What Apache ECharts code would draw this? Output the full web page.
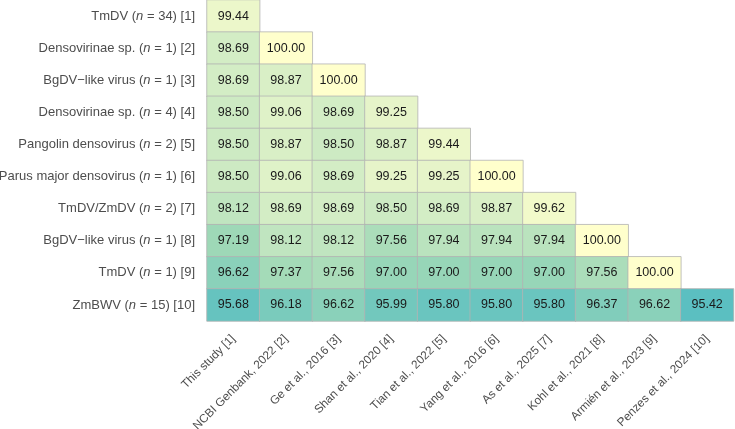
<!DOCTYPE html>
<html><head><meta charset="utf-8">
<script src="https://cdn.jsdelivr.net/npm/echarts@6/dist/echarts.min.js"></script>
<style>html,body{margin:0;padding:0;background:#fff}#c{width:735px;height:429px}</style>
</head><body><div id="c"></div>
<script>
const rowNames = ["TmDV", "Densovirinae sp.", "BgDV\u2212like virus", "Densovirinae sp.", "Pangolin densovirus", "Parus major densovirus", "TmDV/ZmDV", "BgDV\u2212like virus", "TmDV", "ZmBWV"];
const rowN = [34, 1, 1, 4, 2, 1, 2, 1, 1, 15];
const colLabels = ["This study [1]", "NCBI Genbank, 2022 [2]", "Ge et al., 2016 [3]", "Shan et al., 2020 [4]", "Tian et al., 2022 [5]", "Yang et al., 2016 [6]", "As et al., 2025 [7]", "Kohl et al., 2021 [8]", "Armién et al., 2023 [9]", "Penzes et al., 2024 [10]"];
const row1 = [99.44];
const row2 = [98.69, 100.00];
const row3 = [98.69, 98.87, 100.00];
const row4 = [98.50, 99.06, 98.69, 99.25];
const row5 = [98.50, 98.87, 98.50, 98.87, 99.44];
const row6 = [98.50, 99.06, 98.69, 99.25, 99.25, 100.00];
const row7 = [98.12, 98.69, 98.69, 98.50, 98.69, 98.87, 99.62];
const row8 = [97.19, 98.12, 98.12, 97.56, 97.94, 97.94, 97.94, 100.00];
const row9 = [96.62, 97.37, 97.56, 97.00, 97.00, 97.00, 97.00, 97.56, 100.00];
const row10 = [95.68, 96.18, 96.62, 95.99, 95.80, 95.80, 95.80, 96.37, 96.62, 95.42];
const rows = [row1, row2, row3, row4, row5, row6, row7, row8, row9, row10];

const rowCats = rowNames.map((n, i) => n + "|" + i);
const data = [];
rows.forEach((r, i) => r.forEach((v, j) => data.push([j, i, v])));

const FF = "Liberation Sans, Arial, sans-serif";
const chart = echarts.init(document.getElementById('c'));
chart.setOption({
  animation: false,
  textStyle: {fontFamily: FF},
  grid: {left: 207, right: 1.5, top: 0, bottom: 108, containLabel: false, outerBoundsMode: 'none'},
  xAxis: {
    type: 'category', data: colLabels,
    axisLine: {show: false}, axisTick: {show: false}, splitLine: {show: false},
    axisLabel: {rotate: 45, fontSize: 11.8, color: '#4d4d4d', margin: 16, interval: 0, fontFamily: FF}
  },
  yAxis: {
    type: 'category', data: rowCats, inverse: true,
    axisLine: {show: false}, axisTick: {show: false}, splitLine: {show: false},
    axisLabel: {
      margin: 12, fontSize: 13, color: '#4d4d4d', interval: 0, fontFamily: FF,
      formatter: function (v) {
        const i = parseInt(v.split("|")[1]);
        return rowNames[i] + " ({i|n} = " + rowN[i] + ") [" + (i + 1) + "]";
      },
      rich: {i: {fontStyle: 'italic', fontSize: 13, color: '#4d4d4d', fontFamily: FF}}
    }
  },
  visualMap: {
    show: false, min: 95.42, max: 100, dimension: 2,
    inRange: {color: ['#5bbfc1', '#80cdbb', '#a0d9b7', '#c2e6c0', '#e0f2c8', '#ffffcc']}
  },
  series: [{
    type: 'heatmap', data: data,
    itemStyle: {borderColor: '#b3b3b3', borderWidth: 0.8},
    label: {show: true, color: '#1a1a1a', fontSize: 12.5, fontFamily: FF,
      formatter: p => p.value[2].toFixed(2)}
  }]
});
</script></body></html>
